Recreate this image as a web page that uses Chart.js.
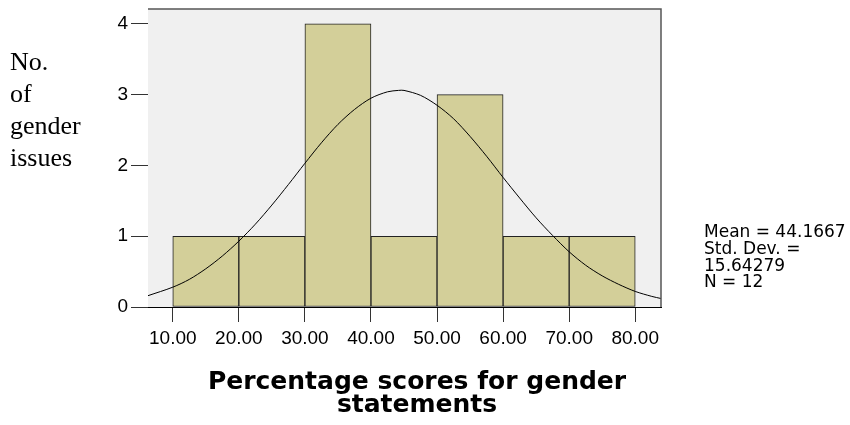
<!DOCTYPE html>
<html>
	<head>
		<script src="https://cdn.jsdelivr.net/npm/chart.js@4.4.1/dist/chart.umd.min.js"></script>
		<style>
			body { margin: 0; background: #fff; }
		</style>
	</head>
	<body>
		<canvas id="histChart" width="850" height="425"></canvas>
		<script>
			// Histogram bins (centres) and counts
			let binCentres = [15, 25, 35, 45, 55, 65, 75];
			let binCounts = [1, 1, 4, 1, 3, 1, 1];

			// Normal curve
			let curveX = [6.25, 10, 12.5, 15, 17.5, 20, 22.5, 25, 27.5, 30, 32.5, 35, 37.5, 40, 42.5, 44.17,
				45, 47.5, 50, 52.5, 55, 57.5, 60, 62.5, 65, 67.5, 70, 72.5, 75, 77.5, 80, 82.5, 83.9];
			let curveY = [0.16, 0.28, 0.39, 0.54, 0.72, 0.93, 1.17, 1.44, 1.73, 2.03, 2.32, 2.58, 2.79, 2.95, 3.04, 3.06,
				3.06, 2.99, 2.85, 2.66, 2.41, 2.13, 1.83, 1.54, 1.26, 1.01, 0.78, 0.59, 0.44, 0.32, 0.22, 0.15, 0.12];

			// Axis ticks
			let xTickValues = [10, 20, 30, 40, 50, 60, 70, 80];
			let yTickValues = [0, 1, 2, 3, 4];

			// Texts
			let yTitleLines = ['No.', 'of', 'gender', 'issues'];
			let xTitleLines = ['Percentage scores for gender', 'statements'];
			let statsLines = ['Mean = 44.1667', 'Std. Dev. =', '15.64279', 'N = 12'];

			// Plot background, frame and free texts
			let decor = {
				id: 'decor',
				beforeDatasetsDraw(chart) {
					let a = chart.chartArea;
					let ctx = chart.ctx;
					ctx.save();
					ctx.fillStyle = '#f0f0f0';
					ctx.fillRect(a.left, a.top, a.right - a.left, a.bottom - a.top);
					ctx.restore();
				},
				afterDraw(chart) {
					let a = chart.chartArea;
					let ctx = chart.ctx;
					ctx.save();
					ctx.strokeStyle = '#555';
					ctx.lineWidth = 1.5;
					ctx.beginPath();
					ctx.moveTo(a.left, a.top);
					ctx.lineTo(a.right, a.top);
					ctx.lineTo(a.right, a.bottom);
					ctx.stroke();

					ctx.fillStyle = '#000';
					ctx.textBaseline = 'alphabetic';

					ctx.font = '26px "Liberation Serif"';
					ctx.textAlign = 'left';
					yTitleLines.forEach((t, i) => ctx.fillText(t, 10, 70 + i * 32));

					ctx.font = '17px "DejaVu Sans"';
					statsLines.forEach((t, i) => ctx.fillText(t, 704, 237 + i * 16.8));

					ctx.font = 'bold 25px "DejaVu Sans"';
					ctx.textAlign = 'center';
					xTitleLines.forEach((t, i) => ctx.fillText(t, 417, 389 + i * 23));
					ctx.restore();
				}
			};

			let ctx = document.getElementById('histChart').getContext('2d');

			let chart = new Chart(ctx, {
				data: {
					datasets: [{
						type: 'line',
						order: 0,
						data: curveX.map((x, i) => ({x: x, y: curveY[i]})),
						borderColor: '#000',
						borderWidth: 1,
						pointRadius: 0,
						tension: 0.3,
						fill: false
					}, {
						type: 'bar',
						order: 1,
						data: binCentres.map((x, i) => ({x: x, y: binCounts[i]})),
						backgroundColor: '#d3cf99',
						borderColor: '#222',
						borderWidth: 1,
						borderSkipped: false,
						barPercentage: 1,
						categoryPercentage: 1
					}]
				},
				plugins: [decor],
				options: {
					responsive: false,
					animation: false,
					layout: {padding: {left: 0, right: 189, top: 9, bottom: 0}},
					plugins: {
						legend: {display: false},
						tooltip: {enabled: false}
					},
					scales: {
						x: {
							type: 'linear',
							min: 6.25,
							max: 83.9,
							offset: false,
							afterFit(scale) { scale.height = 118; scale.paddingLeft = 0; scale.paddingRight = 0; },
							afterBuildTicks(scale) { scale.ticks = xTickValues.map(v => ({value: v})); },
							grid: {offset: false, drawOnChartArea: false, drawTicks: true, tickLength: 15, tickColor: '#333'},
							border: {display: true, color: '#000', width: 1},
							ticks: {
								color: '#000',
								padding: 5,
								maxRotation: 0,
								font: {family: '"Liberation Sans"', size: 19},
								callback: v => v.toFixed(2)
							}
						},
						y: {
							type: 'linear',
							min: 0,
							max: 4.21,
							afterFit(scale) { scale.width = 148; scale.paddingTop = 0; scale.paddingBottom = 0; },
							afterBuildTicks(scale) { scale.ticks = yTickValues.map(v => ({value: v})); },
							grid: {drawOnChartArea: false, drawTicks: true, tickLength: 17, tickColor: '#333'},
							border: {display: true, color: '#000', width: 1},
							ticks: {
								color: '#000',
								padding: 3,
								font: {family: '"Liberation Sans"', size: 19},
								callback: v => String(v)
							}
						}
					}
				}
			});
		</script>
	</body>
</html>
